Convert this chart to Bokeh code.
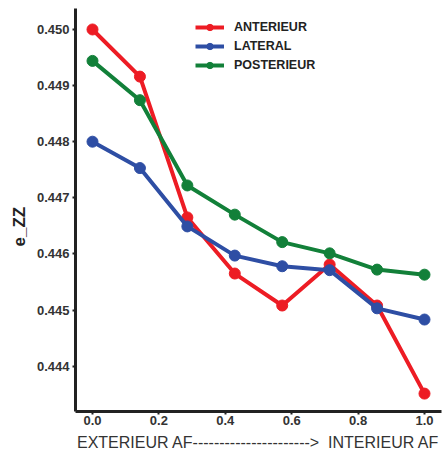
from bokeh.plotting import figure
from bokeh.models import Range1d, FixedTicker, Legend, LegendItem, Title
from bokeh.embed import file_html
from bokeh.resources import INLINE

x_pos = [0.0, 1/7, 2/7, 3/7, 4/7, 5/7, 6/7, 1.0]
anterieur = [0.45000, 0.44916, 0.44665, 0.44565, 0.44508, 0.44581, 0.44508, 0.44351]
lateral = [0.44800, 0.44753, 0.44649, 0.44597, 0.44578, 0.44571, 0.44503, 0.44483]
posterieur = [0.44944, 0.44874, 0.44722, 0.44670, 0.44621, 0.44601, 0.44572, 0.44563]
series_names = ["ANTERIEUR", "LATERAL", "POSTERIEUR"]
colors = ["#ED1C24", "#2E4EA4", "#128039"]
x_ticks = [0.0, 0.2, 0.4, 0.6, 0.8, 1.0]
y_ticks = [0.444, 0.445, 0.446, 0.447, 0.448, 0.449, 0.450]
x_label = "EXTERIEUR AF---------------------->\u00a0 INTERIEUR AF"
y_label = "e_ZZ"

p = figure(width=444, height=457, output_backend="svg", toolbar_location=None,
           x_range=Range1d(-0.0512, 1.0512), y_range=Range1d(0.443191, 0.450374),
           min_border_left=75, min_border_right=3, min_border_top=8, min_border_bottom=46)
p.outline_line_color = None
p.grid.visible = False

items = []
for name, ys, c in zip(series_names, [anterieur, lateral, posterieur], colors):
    r1 = p.line(x_pos, ys, line_color=c, line_width=4)
    r2 = p.scatter(x_pos, ys, size=11, fill_color=c, line_color=c)
    items.append(LegendItem(label=name, renderers=[r1, r2]))

legend = Legend(items=items, location=(120, 338), border_line_color=None,
                background_fill_alpha=0, label_text_font="Liberation Sans",
                label_text_font_style="bold", label_text_font_size="12.5px",
                label_text_color="#222222", glyph_width=29, glyph_height=16,
                spacing=3, padding=4, label_standoff=10, margin=0)
p.add_layout(legend, "center")

for ax in [p.xaxis[0], p.yaxis[0]]:
    ax.axis_line_width = 3
    ax.axis_line_color = "#222222"
    ax.major_tick_line_color = "#222222"
    ax.major_tick_line_width = 2
    ax.major_tick_out = 3
    ax.major_tick_in = 0
    ax.minor_tick_line_color = None
    ax.major_label_text_font = "Liberation Sans"
    ax.major_label_text_font_style = "bold"
    ax.major_label_text_font_size = "13px"
    ax.major_label_text_color = "#333333"

p.xaxis.ticker = FixedTicker(ticks=x_ticks)
p.yaxis.ticker = FixedTicker(ticks=y_ticks)
p.xaxis.major_label_overrides = {t: f"{t:.1f}" for t in x_ticks}
p.yaxis.major_label_overrides = {t: f"{t:.3f}" for t in y_ticks}
p.xaxis.major_label_standoff = 1
p.yaxis.major_label_standoff = 3

p.xaxis.axis_label = x_label
p.xaxis.axis_label_text_font = "Liberation Sans"
p.xaxis.axis_label_text_font_style = "normal"
p.xaxis.axis_label_text_font_size = "16px"
p.xaxis.axis_label_text_color = "#333333"
p.xaxis.axis_label_standoff = 6

yt = Title(text=y_label, align="left", offset=165, standoff=9,
           text_font="Liberation Sans", text_font_style="bold",
           text_font_size="17px", text_color="#222222")
p.add_layout(yt, "left")

open("out.html", "w").write(file_html(p, INLINE))
